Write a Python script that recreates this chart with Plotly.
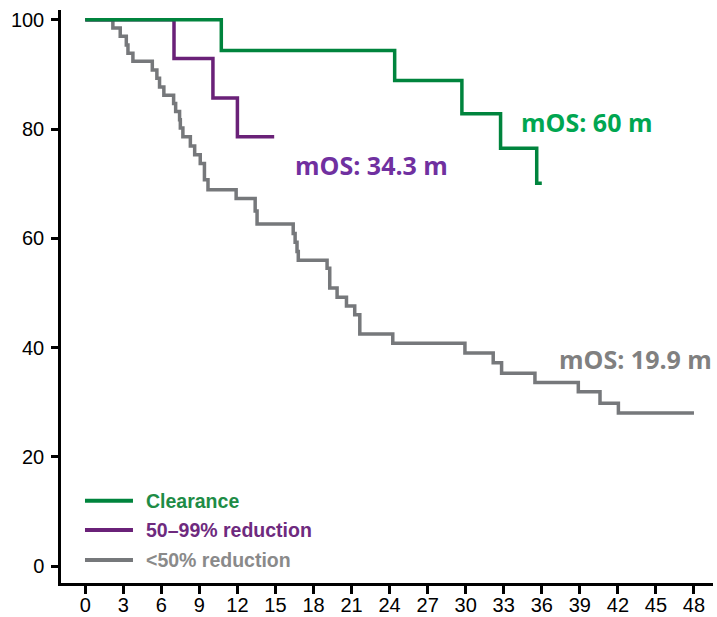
import plotly.graph_objects as go

# Kaplan-Meier overall survival by ctDNA response group (months, % surviving)
clear_t = [0, 10.73, 24.4, 29.7, 32.75, 35.6, 36.0]
clear_s = [100, 94.4, 88.9, 82.8, 76.5, 70.1, 70.1]

partial_t = [0, 7.0, 10.07, 12.0, 14.9]
partial_s = [100, 92.9, 85.7, 78.6, 78.6]

minor_t = [0, 2.18, 2.76, 3.24, 3.37, 3.76, 5.29, 5.65, 5.86, 6.2, 6.97, 7.13,
           7.44, 7.5, 7.7, 8.29, 8.63, 9.07, 9.4, 9.68, 11.9, 13.4, 13.55,
           16.4, 16.55, 16.7, 16.8, 19.07, 19.28, 19.86, 20.6, 21.25, 21.65,
           24.25, 29.94, 32.17, 32.83, 35.46, 38.88, 40.59, 42.04, 48.0]
minor_s = [100, 98.5, 97.0, 95.4, 93.9, 92.4, 90.8, 89.3, 87.7, 86.2, 84.7, 83.2,
           81.7, 80.2, 78.6, 76.9, 75.3, 73.7, 70.7, 68.9, 67.3, 65.0, 62.6,
           60.9, 59.3, 57.6, 56.0, 54.5, 50.9, 49.2, 47.6, 46.0, 42.5,
           40.8, 39.0, 37.2, 35.3, 33.6, 31.9, 29.8, 28.0, 28.0]

group_names = ["Clearance", "50–99% reduction", "<50% reduction"]
line_colors = ["#00843D", "#6A2178", "#76787B"]
text_colors = ["#1E8C46", "#6E2A7E", "#8A8A8A"]

median_labels = ["mOS: 60 m", "mOS: 34.3 m", "mOS: 19.9 m"]
median_colors = ["#00A651", "#7030A0", "#808080"]
median_pos = [(39.5, 81.3), (22.6, 73.4), (43.4, 37.9)]

x_ticks = list(range(0, 49, 3))
y_ticks = list(range(0, 101, 20))

fig = go.Figure()

series = [(minor_t, minor_s, 2), (partial_t, partial_s, 1), (clear_t, clear_s, 0)]
for t, s, i in series:
    fig.add_trace(go.Scatter(
        x=t, y=s, mode="lines", name=group_names[i],
        line=dict(color=line_colors[i], width=3.5, shape="hv"),
        showlegend=False, hoverinfo="x+y",
    ))

# median OS labels
for lab, col, (mx, my) in zip(median_labels, median_colors, median_pos):
    fig.add_annotation(
        x=mx, y=my, xref="x", yref="y", text=f"<b>{lab}</b>", showarrow=False,
        font=dict(family="Open Sans", size=25, color=col),
        xanchor="center", yanchor="middle",
    )

# legend drawn in the lower-left corner
legend_y = [0.1436, 0.0925, 0.0401]
for i, ly in enumerate(legend_y):
    fig.add_shape(
        type="line", xref="paper", yref="paper",
        x0=0.0368, x1=0.1104, y0=ly, y1=ly,
        line=dict(color=line_colors[i], width=4),
    )
    fig.add_annotation(
        x=0.1273, y=ly, xref="paper", yref="paper",
        text=f"<b>{group_names[i]}</b>", showarrow=False,
        font=dict(family="Liberation Sans", size=19.5, color=text_colors[i]),
        xanchor="left", yanchor="middle",
    )

axis_font = dict(family="Liberation Sans", size=20, color="black")
fig.update_xaxes(
    range=[-1.91, 49.5], tickmode="array", tickvals=x_ticks,
    ticks="outside", ticklen=8, tickwidth=2.5, tickcolor="black",
    showline=True, linewidth=2.5, linecolor="black", automargin=False,
    showgrid=False, zeroline=False, tickfont=axis_font, ticklabelstandoff=-6,
)
fig.update_yaxes(
    range=[-3.11, 101.8], tickmode="array", tickvals=y_ticks,
    ticks="outside", ticklen=7, tickwidth=2.5, tickcolor="black",
    showline=True, linewidth=2.5, linecolor="black", automargin=False,
    showgrid=False, zeroline=False, tickfont=axis_font, ticklabelstandoff=3,
)

fig.update_layout(
    width=717, height=617,
    margin=dict(l=61, r=4, t=10, b=34),
    paper_bgcolor="white", plot_bgcolor="white",
)

fig.write_html("out.html")
